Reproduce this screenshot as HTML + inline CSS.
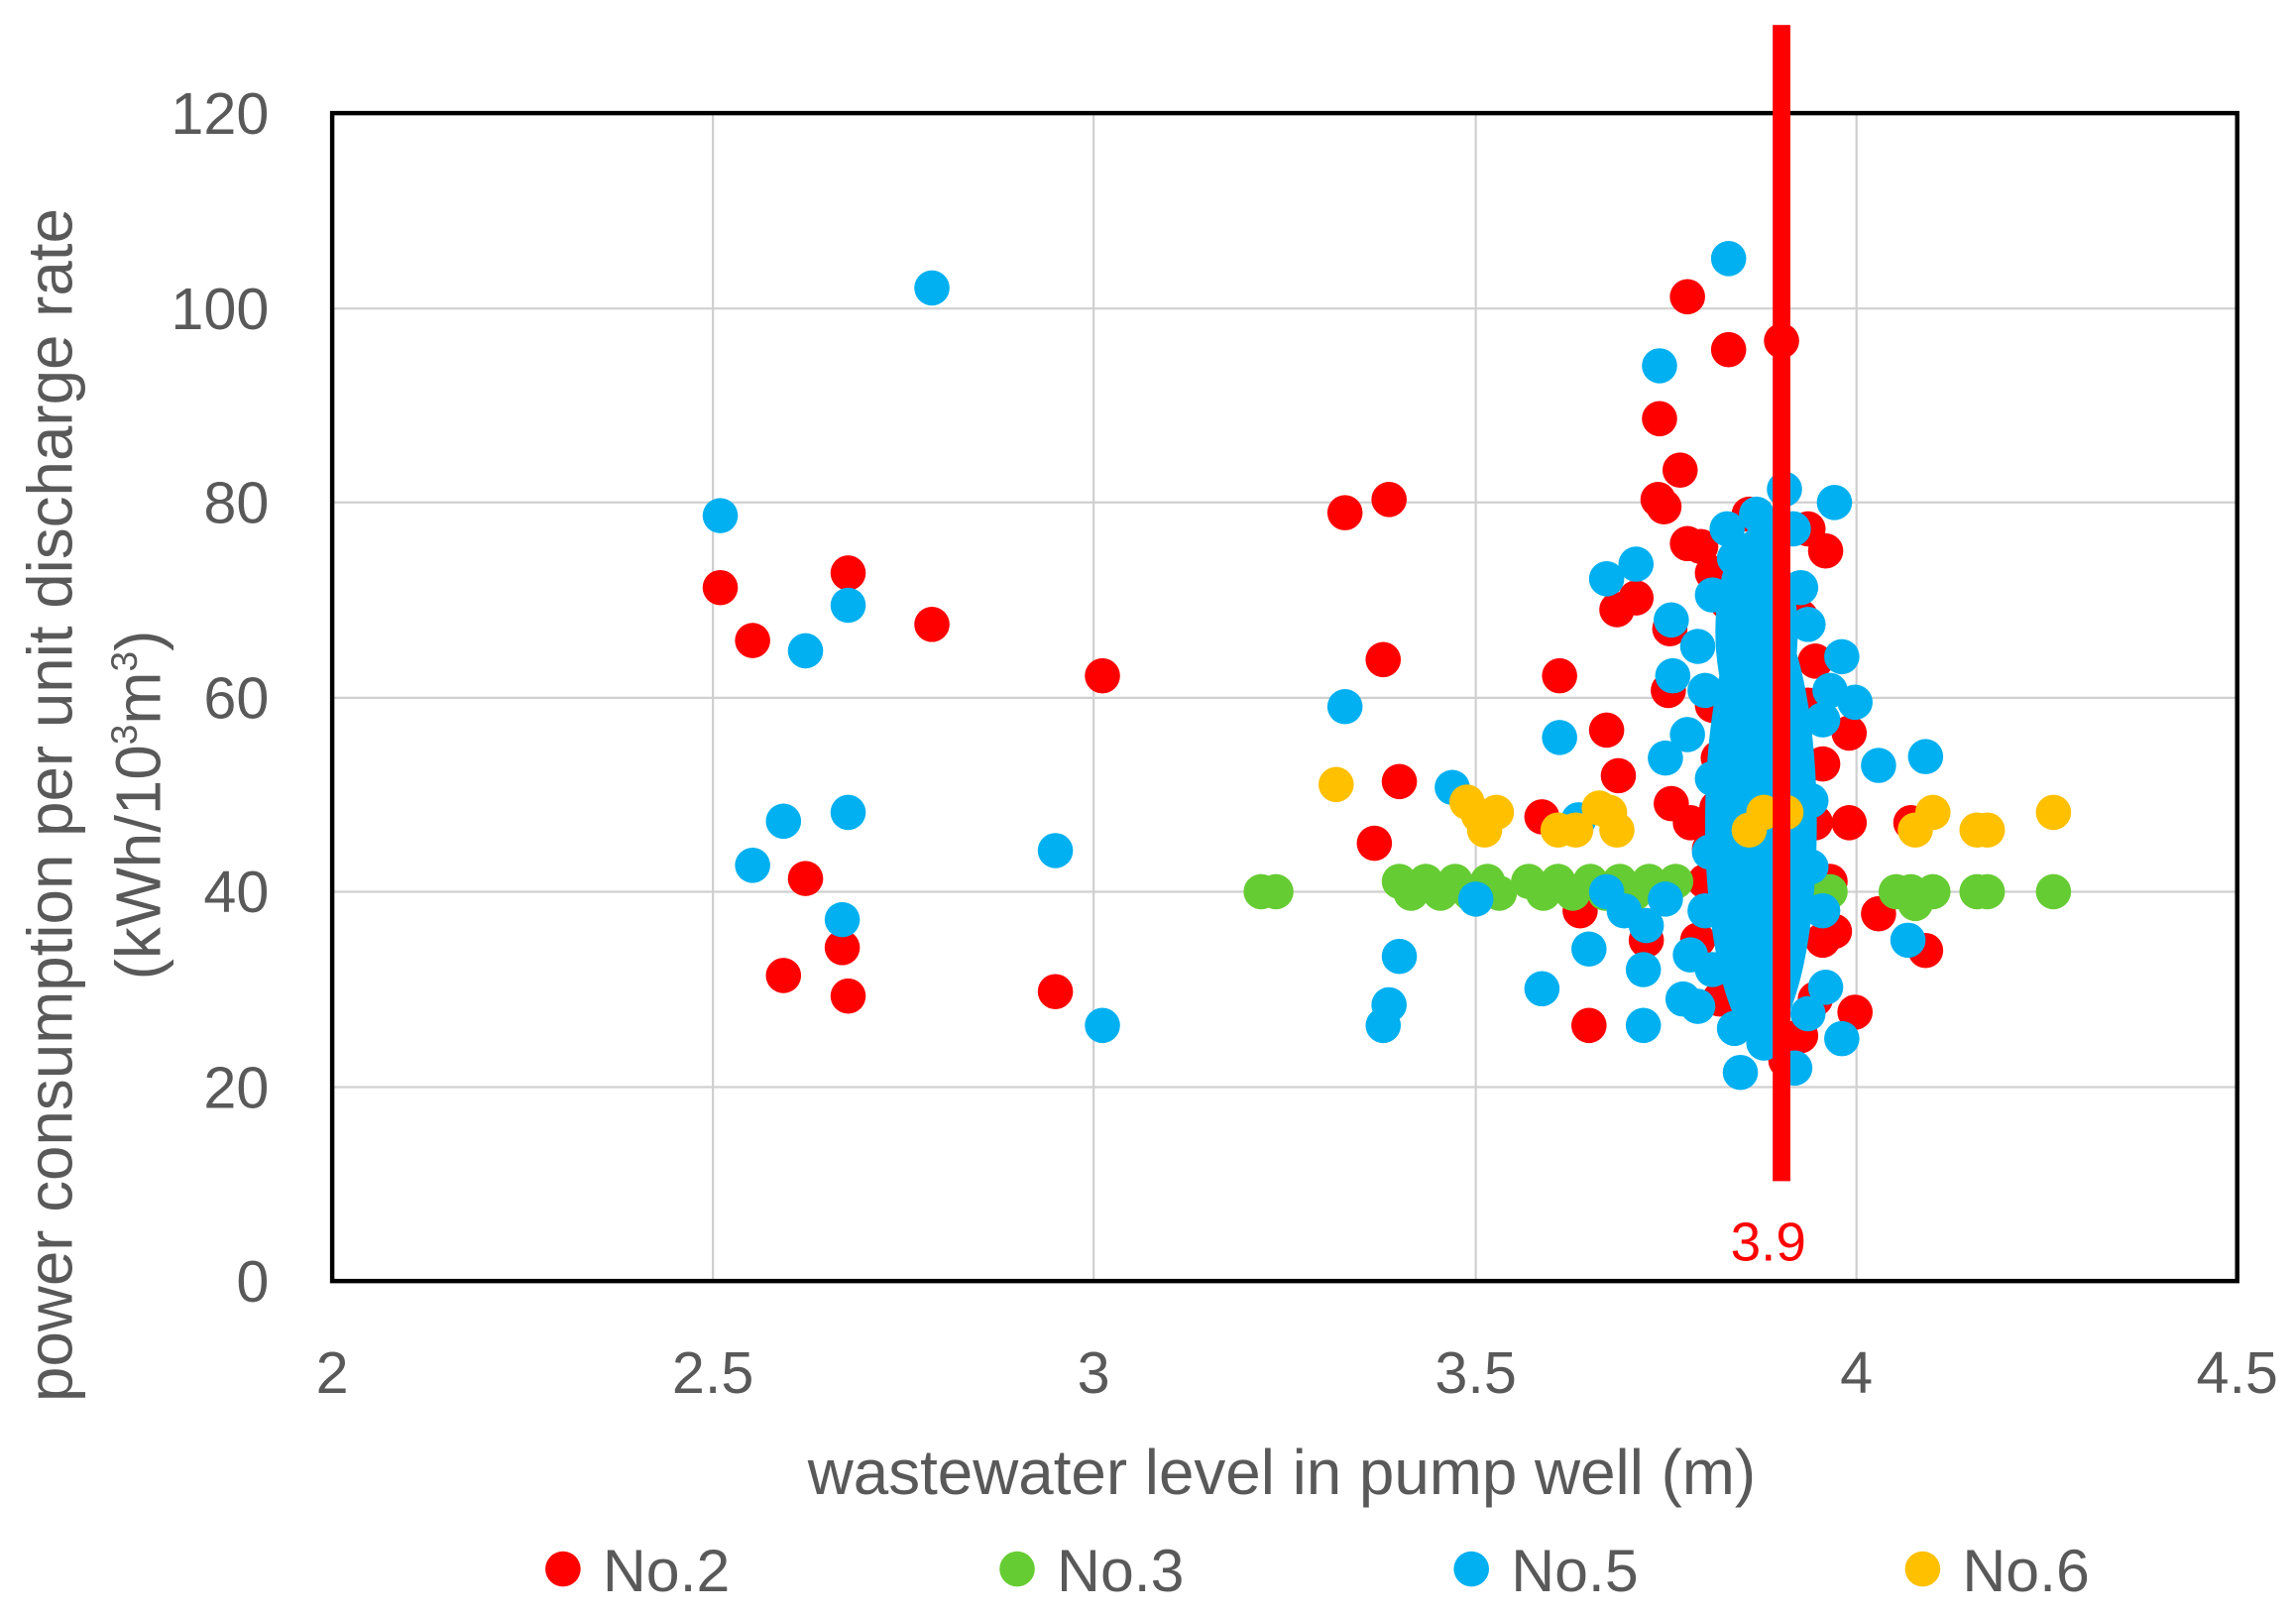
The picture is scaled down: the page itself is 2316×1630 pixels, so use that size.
<!DOCTYPE html>
<html><head><meta charset="utf-8"><style>
html,body{margin:0;padding:0;background:#fff}
svg{display:block}
text{font-family:"Liberation Sans",sans-serif;fill:#595959}
.r{fill:#ff0000}.g{fill:#66cc33}.b{fill:#00b0f0}.y{fill:#ffc000}
</style></head><body>
<svg width="2316" height="1630" viewBox="0 0 1562 1100" preserveAspectRatio="none" xmlns="http://www.w3.org/2000/svg">
<rect width="1562" height="1100" fill="#fff"/>
<g stroke="#d0d0d0" stroke-width="1.5">
<line x1="485" y1="77" x2="485" y2="872"/><line x1="744" y1="77" x2="744" y2="872"/><line x1="1004" y1="77" x2="1004" y2="872"/><line x1="1263" y1="77" x2="1263" y2="872"/>
<line x1="226" y1="740" x2="1522" y2="740"/><line x1="226" y1="607" x2="1522" y2="607"/><line x1="226" y1="475" x2="1522" y2="475"/><line x1="226" y1="342" x2="1522" y2="342"/><line x1="226" y1="210" x2="1522" y2="210"/>
</g>
<rect x="226" y="77" width="1296" height="795" fill="none" stroke="#000" stroke-width="3"/>
<g font-size="40" text-anchor="end">
<text x="183" y="886">0</text><text x="183" y="754">20</text><text x="183" y="621">40</text><text x="183" y="489">60</text><text x="183" y="356">80</text><text x="183" y="224">100</text><text x="183" y="91">120</text>
</g>
<g font-size="40" text-anchor="middle">
<text x="226" y="948">2</text><text x="485" y="948">2.5</text><text x="744" y="948">3</text><text x="1004" y="948">3.5</text><text x="1263" y="948">4</text><text x="1522" y="948">4.5</text>
<text x="872" y="1017" font-size="43">wastewater level in pump well (m)</text>
<text transform="translate(49,548) rotate(-90)" font-size="43">power consumption per unit discharge rate</text>
<text transform="translate(109,548) rotate(-90)" font-size="43">(kWh/10<tspan font-size="25" dy="-16">3</tspan><tspan dy="16">m</tspan><tspan font-size="25" dy="-16">3</tspan><tspan dy="16">)</tspan></text>
</g>
<g>
<g class="r">
<circle cx="490" cy="400" r="12"/><circle cx="512" cy="436" r="12"/><circle cx="577" cy="390" r="12"/><circle cx="634" cy="425" r="12"/><circle cx="548" cy="598" r="12"/><circle cx="533" cy="664" r="12"/><circle cx="577" cy="678" r="12"/><circle cx="573" cy="645" r="12"/><circle cx="750" cy="460" r="12"/><circle cx="718" cy="675" r="12"/><circle cx="915" cy="349" r="12"/><circle cx="945" cy="340" r="12"/><circle cx="941" cy="449" r="12"/><circle cx="952" cy="532" r="12"/><circle cx="935" cy="574" r="12"/><circle cx="1061" cy="460" r="12"/><circle cx="1093" cy="497" r="12"/><circle cx="1101" cy="528" r="12"/><circle cx="1049" cy="556" r="12"/><circle cx="1137" cy="547" r="12"/><circle cx="1081" cy="698" r="12"/><circle cx="1129" cy="285" r="12"/><circle cx="1148" cy="202" r="12"/><circle cx="1176" cy="238" r="12"/><circle cx="1212" cy="232" r="12"/><circle cx="1143" cy="320" r="12"/><circle cx="1132" cy="345" r="12"/><circle cx="1128" cy="340" r="12"/><circle cx="1148" cy="370" r="12"/><circle cx="1157" cy="372" r="12"/><circle cx="1135" cy="470" r="12"/><circle cx="1136" cy="428" r="12"/><circle cx="1100" cy="415" r="12"/><circle cx="1113" cy="407" r="12"/><circle cx="1169" cy="516" r="12"/><circle cx="1168" cy="550" r="12"/><circle cx="1163" cy="578" r="12"/><circle cx="1242" cy="375" r="12"/><circle cx="1258" cy="499" r="12"/><circle cx="1258" cy="560" r="12"/><circle cx="1278" cy="622" r="12"/><circle cx="1310" cy="647" r="12"/><circle cx="1262" cy="689" r="12"/><circle cx="1248" cy="634" r="12"/><circle cx="1300" cy="560" r="12"/><circle cx="1075" cy="620" r="12"/><circle cx="1120" cy="640" r="12"/>
<circle cx="1165" cy="390" r="12"/><circle cx="1175" cy="410" r="12"/><circle cx="1190" cy="350" r="12"/><circle cx="1200" cy="380" r="12"/><circle cx="1225" cy="420" r="12"/><circle cx="1235" cy="450" r="12"/><circle cx="1230" cy="480" r="12"/><circle cx="1240" cy="520" r="12"/><circle cx="1235" cy="560" r="12"/><circle cx="1245" cy="600" r="12"/><circle cx="1240" cy="640" r="12"/><circle cx="1235" cy="680" r="12"/><circle cx="1225" cy="705" r="12"/><circle cx="1215" cy="722" r="12"/><circle cx="1160" cy="600" r="12"/><circle cx="1155" cy="640" r="12"/><circle cx="1170" cy="680" r="12"/><circle cx="1150" cy="560" r="12"/><circle cx="1165" cy="480" r="12"/><circle cx="1230" cy="360" r="12"/><circle cx="1180" cy="440" r="12"/>
</g>
<g class="g">
<circle cx="858" cy="607" r="12"/><circle cx="868" cy="607" r="12"/>
<circle cx="952" cy="600" r="12"/><circle cx="960" cy="608" r="12"/><circle cx="970" cy="600" r="12"/><circle cx="980" cy="608" r="12"/><circle cx="990" cy="600" r="12"/><circle cx="1000" cy="608" r="12"/><circle cx="1012" cy="600" r="12"/><circle cx="1020" cy="608" r="12"/><circle cx="1040" cy="600" r="12"/><circle cx="1050" cy="608" r="12"/><circle cx="1060" cy="600" r="12"/><circle cx="1070" cy="608" r="12"/><circle cx="1082" cy="600" r="12"/><circle cx="1092" cy="608" r="12"/><circle cx="1102" cy="600" r="12"/><circle cx="1112" cy="608" r="12"/><circle cx="1122" cy="600" r="12"/><circle cx="1132" cy="608" r="12"/><circle cx="1140" cy="600" r="12"/><circle cx="1175" cy="598" r="12"/><circle cx="1245" cy="607" r="12"/><circle cx="1290" cy="607" r="12"/><circle cx="1300" cy="607" r="12"/><circle cx="1315" cy="607" r="12"/><circle cx="1345" cy="607" r="12"/><circle cx="1352" cy="607" r="12"/><circle cx="1397" cy="607" r="12"/><circle cx="1303" cy="615" r="12"/>
</g>
<g class="b">
<ellipse cx="1198" cy="560" rx="38" ry="150"/><ellipse cx="1195" cy="430" rx="28" ry="70"/>
<circle cx="490" cy="351" r="12"/><circle cx="634" cy="196" r="12"/><circle cx="548" cy="443" r="12"/><circle cx="577" cy="412" r="12"/><circle cx="533" cy="559" r="12"/><circle cx="512" cy="589" r="12"/><circle cx="573" cy="626" r="12"/><circle cx="577" cy="553" r="12"/><circle cx="718" cy="579" r="12"/><circle cx="750" cy="698" r="12"/><circle cx="915" cy="481" r="12"/><circle cx="941" cy="698" r="12"/><circle cx="945" cy="684" r="12"/><circle cx="952" cy="651" r="12"/><circle cx="988" cy="536" r="12"/><circle cx="1004" cy="612" r="12"/><circle cx="1061" cy="502" r="12"/><circle cx="1049" cy="673" r="12"/><circle cx="1081" cy="646" r="12"/><circle cx="1093" cy="394" r="12"/><circle cx="1113" cy="384" r="12"/><circle cx="1129" cy="249" r="12"/><circle cx="1176" cy="176" r="12"/><circle cx="1214" cy="333" r="12"/><circle cx="1248" cy="342" r="12"/><circle cx="1253" cy="447" r="12"/><circle cx="1262" cy="478" r="12"/><circle cx="1278" cy="521" r="12"/><circle cx="1310" cy="515" r="12"/><circle cx="1298" cy="640" r="12"/><circle cx="1253" cy="707" r="12"/><circle cx="1184" cy="730" r="12"/><circle cx="1221" cy="727" r="12"/><circle cx="1118" cy="698" r="12"/><circle cx="1118" cy="660" r="12"/><circle cx="1093" cy="607" r="12"/><circle cx="1137" cy="422" r="12"/><circle cx="1138" cy="460" r="12"/><circle cx="1133" cy="516" r="12"/><circle cx="1148" cy="500" r="12"/><circle cx="1074" cy="558" r="12"/>
<circle cx="1105" cy="620" r="12"/><circle cx="1120" cy="630" r="12"/><circle cx="1133" cy="612" r="12"/><circle cx="1150" cy="650" r="12"/><circle cx="1145" cy="680" r="12"/><circle cx="1155" cy="685" r="12"/><circle cx="1160" cy="620" r="12"/><circle cx="1165" cy="660" r="12"/><circle cx="1165" cy="405" r="12"/><circle cx="1175" cy="360" r="12"/><circle cx="1180" cy="380" r="12"/><circle cx="1195" cy="350" r="12"/><circle cx="1200" cy="365" r="12"/><circle cx="1220" cy="360" r="12"/><circle cx="1225" cy="400" r="12"/><circle cx="1230" cy="425" r="12"/><circle cx="1245" cy="470" r="12"/><circle cx="1240" cy="490" r="12"/><circle cx="1232" cy="545" r="12"/><circle cx="1232" cy="590" r="12"/><circle cx="1240" cy="620" r="12"/><circle cx="1242" cy="672" r="12"/><circle cx="1230" cy="690" r="12"/><circle cx="1180" cy="700" r="12"/><circle cx="1200" cy="710" r="12"/><circle cx="1165" cy="530" r="12"/><circle cx="1160" cy="470" r="12"/><circle cx="1155" cy="440" r="12"/><circle cx="1163" cy="580" r="12"/>
</g>
<g class="y">
<circle cx="909" cy="534" r="12"/><circle cx="998" cy="546" r="12"/><circle cx="1006" cy="555" r="12"/><circle cx="1018" cy="553" r="12"/><circle cx="1010" cy="565" r="12"/><circle cx="1060" cy="565" r="12"/><circle cx="1072" cy="565" r="12"/><circle cx="1095" cy="553" r="12"/><circle cx="1100" cy="565" r="12"/><circle cx="1190" cy="565" r="12"/><circle cx="1200" cy="553" r="12"/><circle cx="1215" cy="553" r="12"/><circle cx="1303" cy="565" r="12"/><circle cx="1315" cy="553" r="12"/><circle cx="1345" cy="565" r="12"/><circle cx="1352" cy="565" r="12"/><circle cx="1397" cy="553" r="12"/><circle cx="1088" cy="550" r="12"/>
</g>
</g>
<rect x="1206" y="17" width="12" height="787" fill="#ff0000"/>
<text x="1203" y="858" font-size="37" text-anchor="middle" style="fill:#ff0000">3.9</text>
<g font-size="41">
<circle cx="383" cy="1068" r="12" class="r"/><text x="410" y="1083">No.2</text>
<circle cx="692" cy="1068" r="12" class="g"/><text x="719" y="1083">No.3</text>
<circle cx="1001" cy="1068" r="12" class="b"/><text x="1028" y="1083">No.5</text>
<circle cx="1308" cy="1068" r="12" class="y"/><text x="1335" y="1083">No.6</text>
</g>
</svg>
</body></html>
